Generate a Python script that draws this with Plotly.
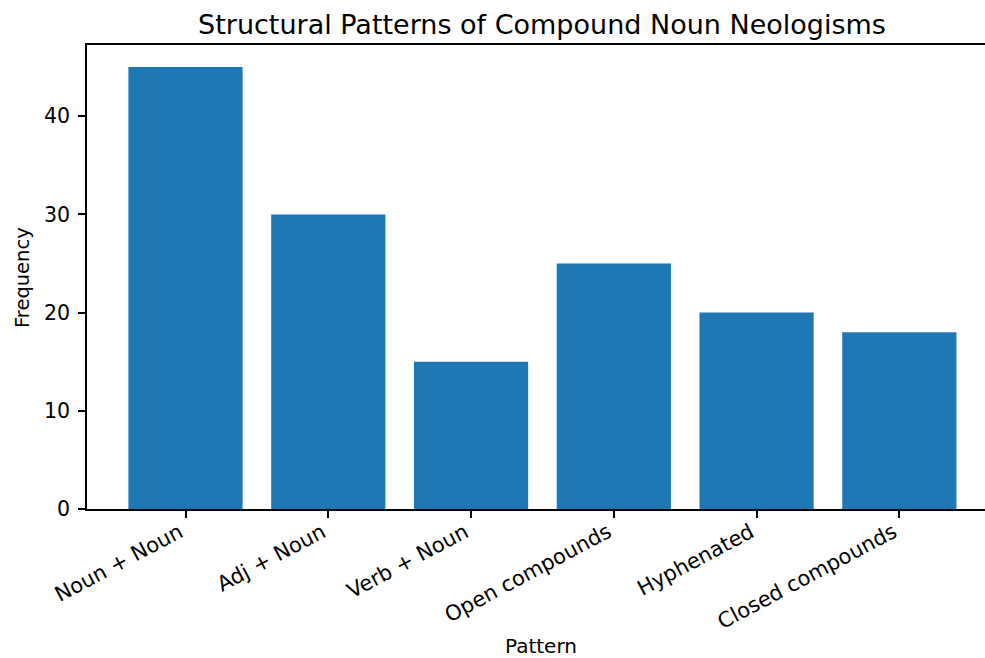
import plotly.graph_objects as go

categories = ["Noun + Noun", "Adj + Noun", "Verb + Noun", "Open compounds", "Hyphenated", "Closed compounds"]
frequency = [45, 30, 15, 25, 20, 18]
y_ticks = [0, 10, 20, 30, 40]

fig = go.Figure(go.Bar(x=list(range(len(categories))), y=frequency, width=0.8,
                       marker=dict(color="#1f77b4", line=dict(width=0))))

font = "DejaVu Sans"
W, H = 985, 658
L, R, T, B = 87, 0, 45, 149
pw, ph = W - L - R, H - T - B

fig.update_layout(
    width=W, height=H,
    margin=dict(l=L, r=R, t=T, b=B, autoexpand=False),
    paper_bgcolor="white", plot_bgcolor="white",
    title=dict(text="Structural Patterns of Compound Noun Neologisms", x=542/W, xanchor="center",
               y=1 - 25/H, yanchor="middle", font=dict(family=font, size=27, color="black")),
    font=dict(family=font, color="black"),
    showlegend=False,
    annotations=[
        dict(text="Pattern", xref="paper", yref="paper", x=(541 - L) / pw, y=-(646 - (H - B)) / ph,
             xanchor="center", yanchor="middle", showarrow=False,
             font=dict(family=font, size=20, color="black")),
        dict(text="Frequency", xref="paper", yref="paper", x=(22 - L) / pw, y=(H - B - 278) / ph,
             xanchor="center", yanchor="middle", textangle=-90, showarrow=False,
             font=dict(family=font, size=19.5, color="black")),
    ],
)
fig.update_xaxes(
    range=[-0.69, 5.60], tickmode="array", tickvals=list(range(len(categories))),
    ticktext=[c + "\u00a0" for c in categories],
    tickangle=-28, ticks="outside", ticklen=7, tickwidth=1.5, tickcolor="black",
    showline=True, linecolor="black", linewidth=1.7, mirror=True, showgrid=False, zeroline=False,
    automargin=False, ticklabelstandoff=-9, tickfont=dict(family=font, size=21, color="black"),
)
fig.update_yaxes(
    range=[0, 47.25], tickmode="array", tickvals=y_ticks, ticks="outside", ticklen=7, tickwidth=1.5,
    tickcolor="black", showline=True, linecolor="black", linewidth=1.7, mirror=False, showgrid=False,
    zeroline=False, automargin=False, ticklabelstandoff=4,
    tickfont=dict(family=font, size=20.5, color="black"),
)
fig.write_html("out.html", config={"displayModeBar": False},
               post_script="document.body.style.margin='0';document.body.style.overflow='hidden';")
